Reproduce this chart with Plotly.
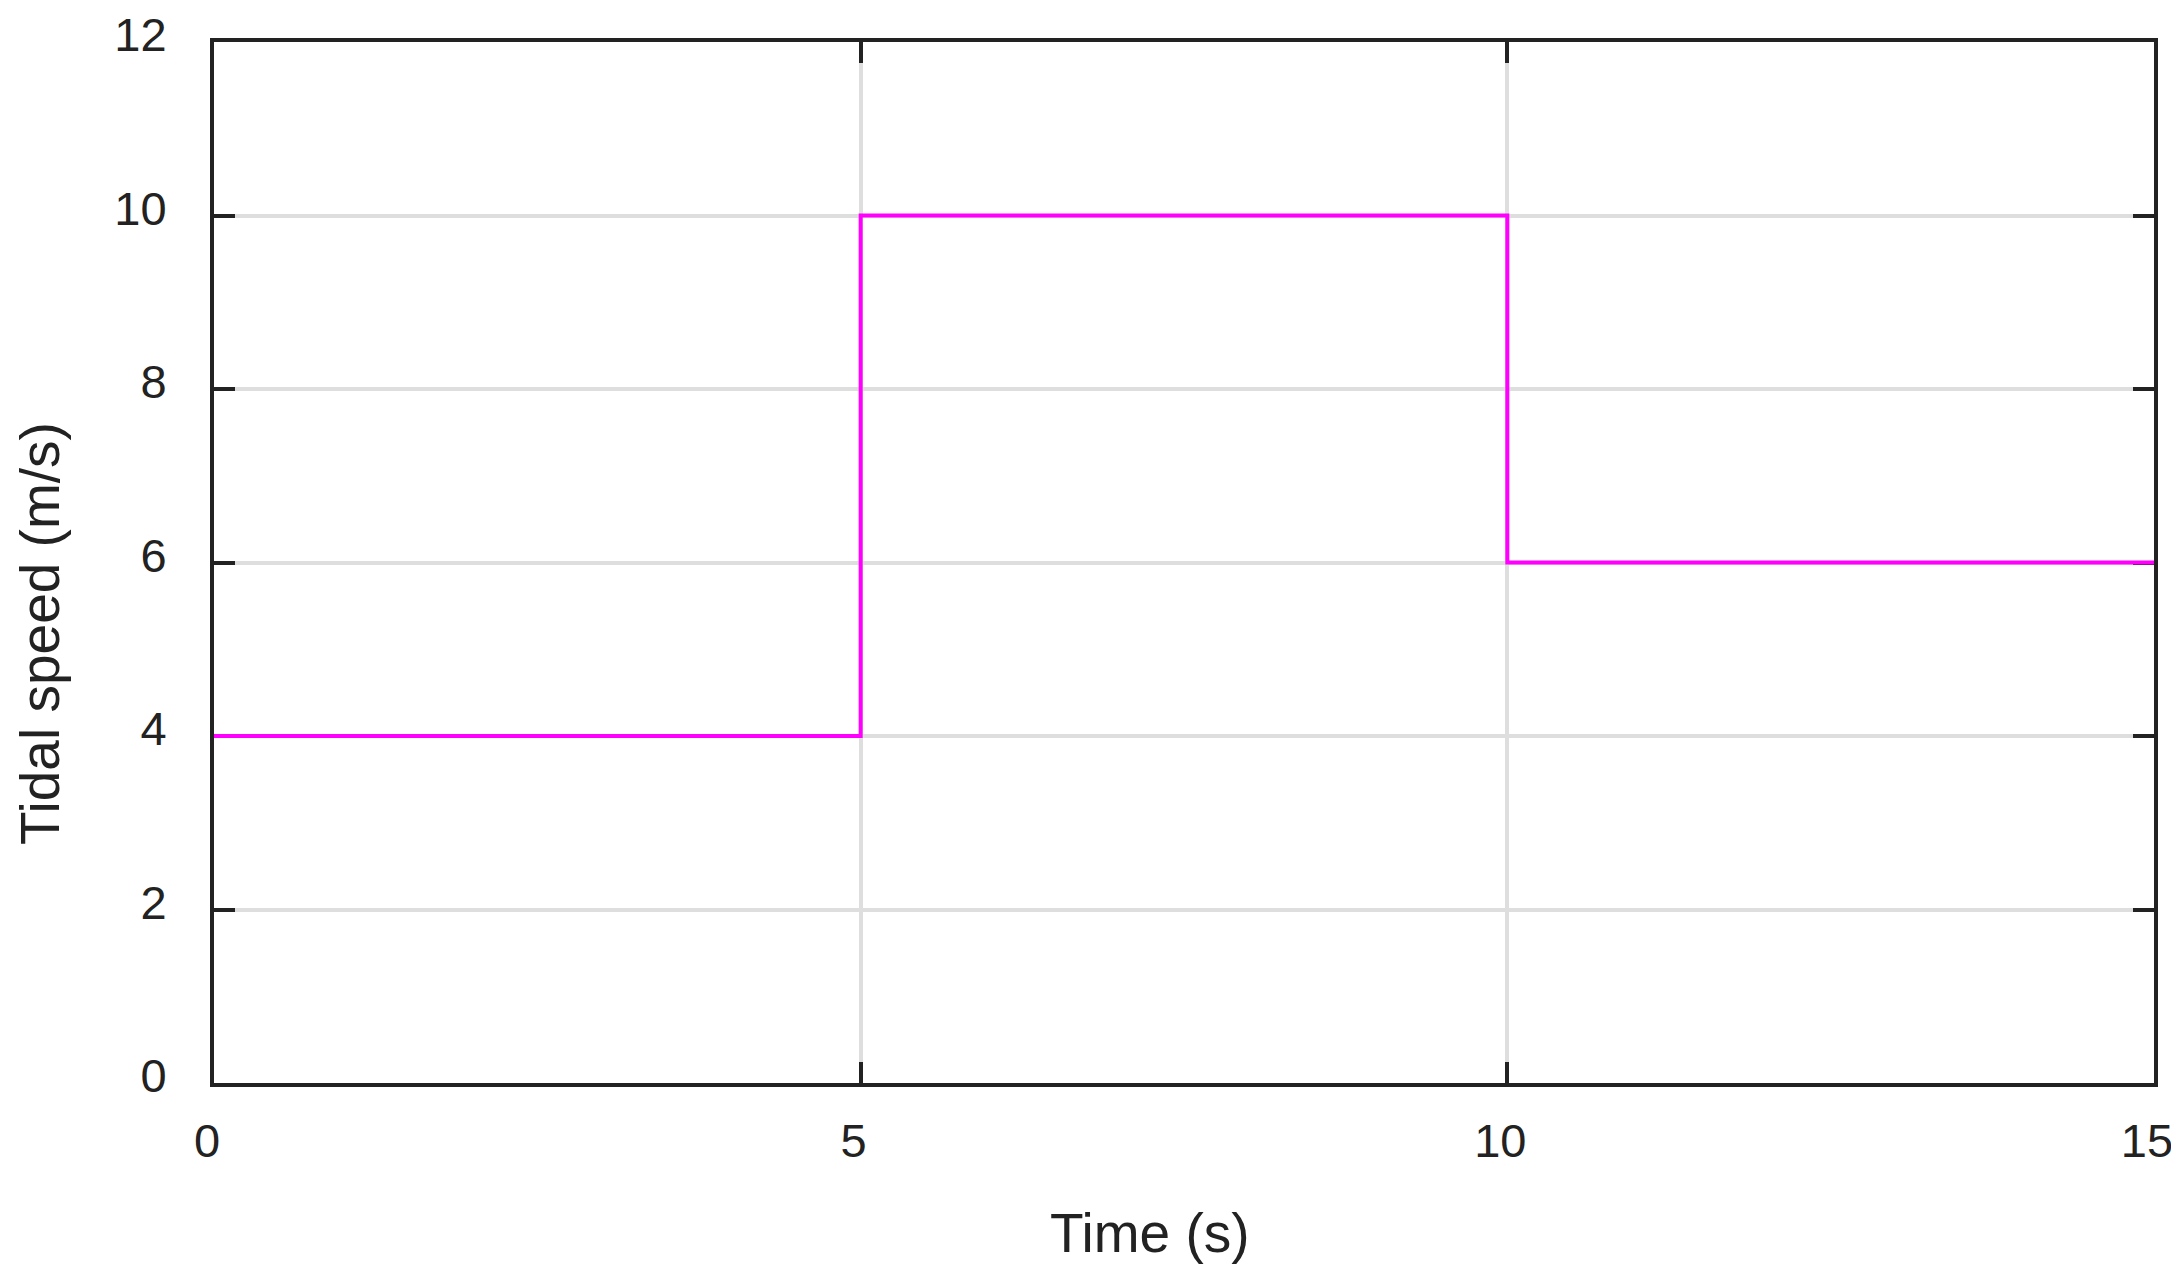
import plotly.graph_objects as go

# step profile of tidal speed
time_s = [0, 5, 10, 15]
speed_ms = [4, 10, 6, 6]

x_ticks = [0, 5, 10, 15]
y_ticks = [0, 2, 4, 6, 8, 10, 12]

FONT = "Liberation Sans, Arial, sans-serif"
INK = "#222222"

# page body adds an 8px offset, margins are compensated for it
PAD = 8

fig = go.Figure()
fig.add_trace(
    go.Scatter(
        x=time_s,
        y=speed_ms,
        mode="lines",
        line=dict(color="#ff00ff", width=4, shape="hv"),
        showlegend=False,
    )
)

axis_common = dict(
    showline=True,
    linecolor=INK,
    linewidth=4,
    mirror="allticks",
    ticks="inside",
    ticklen=21,
    tickwidth=4,
    tickcolor=INK,
    showgrid=True,
    gridcolor="#dedede",
    gridwidth=4,
    zeroline=False,
    automargin=False,
    layer="below traces",
    ticklabeloverflow="allow",
    tickfont=dict(family=FONT, size=47, color=INK),
)

fig.update_layout(
    width=2179,
    height=1273,
    margin=dict(l=214 - PAD, r=25 + PAD, t=42 - PAD, b=190 + PAD),
    paper_bgcolor="white",
    plot_bgcolor="white",
    font=dict(family=FONT, color=INK),
    xaxis=dict(range=[0, 15], tickvals=x_ticks, ticklabelshift=-7, ticklabelstandoff=14, **axis_common),
    yaxis=dict(range=[0, 12], tickvals=y_ticks, ticklabelshift=-7, ticklabelstandoff=34, **axis_common),
)

fig.add_annotation(
    text="Time (s)", xref="paper", yref="paper", x=(1150 - 214) / (2154 - 214), y=-(1233 - 1083) / (1083 - 42),
    showarrow=False, font=dict(family=FONT, size=55, color=INK), xanchor="center", yanchor="middle",
)
fig.add_annotation(
    text="Tidal speed (m/s)", xref="paper", yref="paper", x=-(214 - 40) / (2154 - 214), y=(1083 - 634) / (1083 - 42),
    showarrow=False, textangle=-90, font=dict(family=FONT, size=55, color=INK), xanchor="center", yanchor="middle",
)

fig.write_html("out.html")
